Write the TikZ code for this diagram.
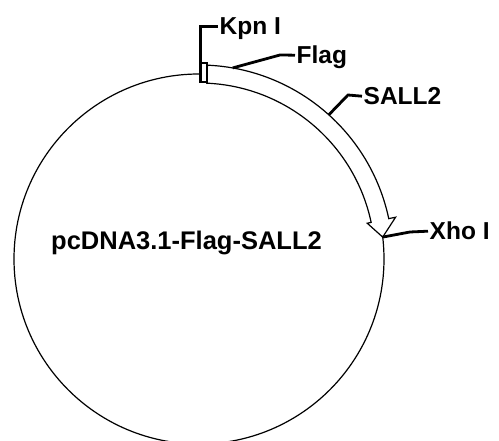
\documentclass[tikz,border=0pt]{standalone}
\usepackage{fontspec}
\setmainfont{Liberation Sans}
\begin{document}
\begin{tikzpicture}[x=1pt,y=1pt,
  ring/.style={line width=1.2pt},
  leader/.style={line width=2.8pt},
  lab/.style={font=\fontsize{24.5}{28}\selectfont\bfseries, inner sep=0pt, inner xsep=1.5pt, text height=17.6pt, text depth=0pt, anchor=base west},
  gene/.style={draw, line width=1.2pt, fill=white, line join=miter}]
\useasboundingbox (0,0) rectangle (499,441);
\coordinate (C) at (199,182);
\draw[ring] (C) circle[radius=185];
\begin{scope}[shift={(C)}]
\draw[gene] (87.5:194) arc[start angle=87.5,end angle=12,radius=194] -- (12:201) -- (6.8:185) -- (12:172) -- (12:176) arc[start angle=12,end angle=87.5,radius=176] -- cycle;
\end{scope}
\node[draw, line width=1.2pt, fill=white, minimum width=6pt, minimum height=19pt, inner sep=0pt] (kbox) at (204,368.5) {};
\coordinate (flagpt) at ([shift={(80:194)}]C);
\coordinate (sallpt) at ([shift={(48:194)}]C);
\coordinate (xhopt) at ([shift={(6.8:185)}]C);
\coordinate (flagbend) at (280,386);
\coordinate (sallbend) at (348,346);
\coordinate (xhobend) at (410,209);
\node[lab] (kpn) at (218,406) {Kpn I};
\node[lab] (flag) at (295,377) {Flag};
\node[lab] (sall) at (362,336) {SALL2};
\node[lab] (xho) at (428,201) {Xho I};
\node[font=\fontsize{25.5}{30}\selectfont\bfseries, anchor=base, inner sep=0pt] (title) at (186.5,191) {pcDNA3.1-Flag-SALL2};
\draw[leader] (kbox.south west) |- (kpn.west);
\draw[leader] (flagpt) -- (flagbend) -- (flag.west);
\draw[leader] (sallpt) -- (sallbend) -- (sall.west);
\draw[leader] (xhopt) -- (xhobend) -- (xho.west);
\end{tikzpicture}
\end{document}
